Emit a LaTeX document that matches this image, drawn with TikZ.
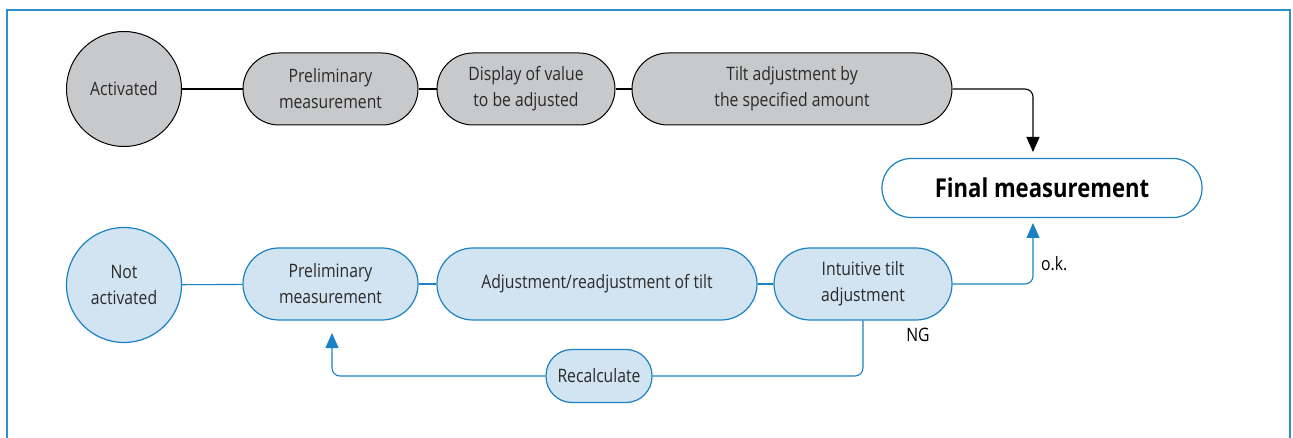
\documentclass[tikz,border=0pt]{standalone}
\usepackage{fontspec}
\setmainfont{Open Sans}[FakeStretch=0.85]
\usetikzlibrary{arrows.meta}
\definecolor{frameblue}{HTML}{2A8FCC}
\definecolor{lineblue}{HTML}{1A82C2}
\definecolor{fillblue}{HTML}{D2E4F2}
\definecolor{fillgray}{HTML}{C8C9CB}
\definecolor{txt}{HTML}{2A2A2A}
\begin{document}
\begin{tikzpicture}[x=1pt,y=-1pt,
  base/.style={align=center, inner sep=0pt, text=txt, font=\fontsize{18.5}{26}\selectfont},
  graypill/.style={base, draw=black, line width=1pt, fill=fillgray, rounded corners=36pt, minimum height=72pt},
  bluepill/.style={base, draw=lineblue, line width=1.2pt, fill=fillblue, rounded corners=36pt, minimum height=72pt},
  graycirc/.style={base, circle, draw=black, line width=1pt, fill=fillgray, minimum size=115pt},
  bluecirc/.style={base, circle, draw=lineblue, line width=1.2pt, fill=fillblue, minimum size=115pt},
  blk/.style={draw=black, line width=1.1pt, rounded corners=8pt},
  blu/.style={draw=lineblue, line width=1.1pt, rounded corners=8pt},
  tip/.style={-{Triangle[length=15pt,width=13pt]}},
  lbl/.style={inner sep=0pt, text=black, font=\fontsize{18.5}{20}\selectfont}
]
\useasboundingbox (0,0) rectangle (1293,438);
\draw[frameblue, line width=2pt] (7,450) -- (7,10) -- (1290,10) -- (1290,450);

% top row
\node[graycirc] (act) at (124,89) {Activated};
\node[graypill, minimum width=175pt] (p1) at (330.5,89) {Preliminary\\measurement};
\node[graypill, minimum width=178pt] (disp) at (526,89) {Display of value\\to be adjusted};
\node[graypill, minimum width=320pt] (tilt) at (792,89) {Tilt adjustment by\\the specified amount};

% final
\node[base, draw=lineblue, line width=1.2pt, fill=white, rounded corners=29pt, minimum width=320pt, minimum height=59pt, text=black, font=\fontsize{26}{28}\bfseries\selectfont] (fin) at (1042,188) {Final measurement};

% bottom row
\node[bluecirc] (nact) at (124,285) {Not\\activated};
\node[bluepill, minimum width=175pt] (p2) at (330.5,284) {Preliminary\\measurement};
\node[bluepill, minimum width=320pt] (adj) at (597,284) {Adjustment/readjustment of tilt};
\node[bluepill, minimum width=178pt] (intu) at (863,284) {Intuitive tilt\\adjustment};
\node[bluepill, rounded corners=26pt, minimum width=106pt, minimum height=53pt] (rec) at (599,376) {Recalculate};

% helper coordinates
\coordinate (topin) at (1033,152);
\coordinate (botin) at (1033,223);
\coordinate (retl) at (332,333);

% connectors top
\draw[blk] (act) -- (p1);
\draw[blk] (p1) -- (disp);
\draw[blk] (disp) -- (tilt);
\draw[blk, tip] (tilt.east) -| (topin);

% connectors bottom
\draw[blu] (nact) -- (p2);
\draw[blu] (p2) -- (adj);
\draw[blu] (adj) -- (intu);
\draw[blu, tip, lineblue] (intu.east) -| (botin);
\draw[blu] (intu.south) |- (rec.east);
\draw[blu, tip, lineblue] (rec.west) -| (retl);

% labels
\node[lbl, anchor=west] (ok) at (1041,264) {o.k.};
\node[lbl] (ng) at (918,335) {NG};
\end{tikzpicture}
\end{document}
